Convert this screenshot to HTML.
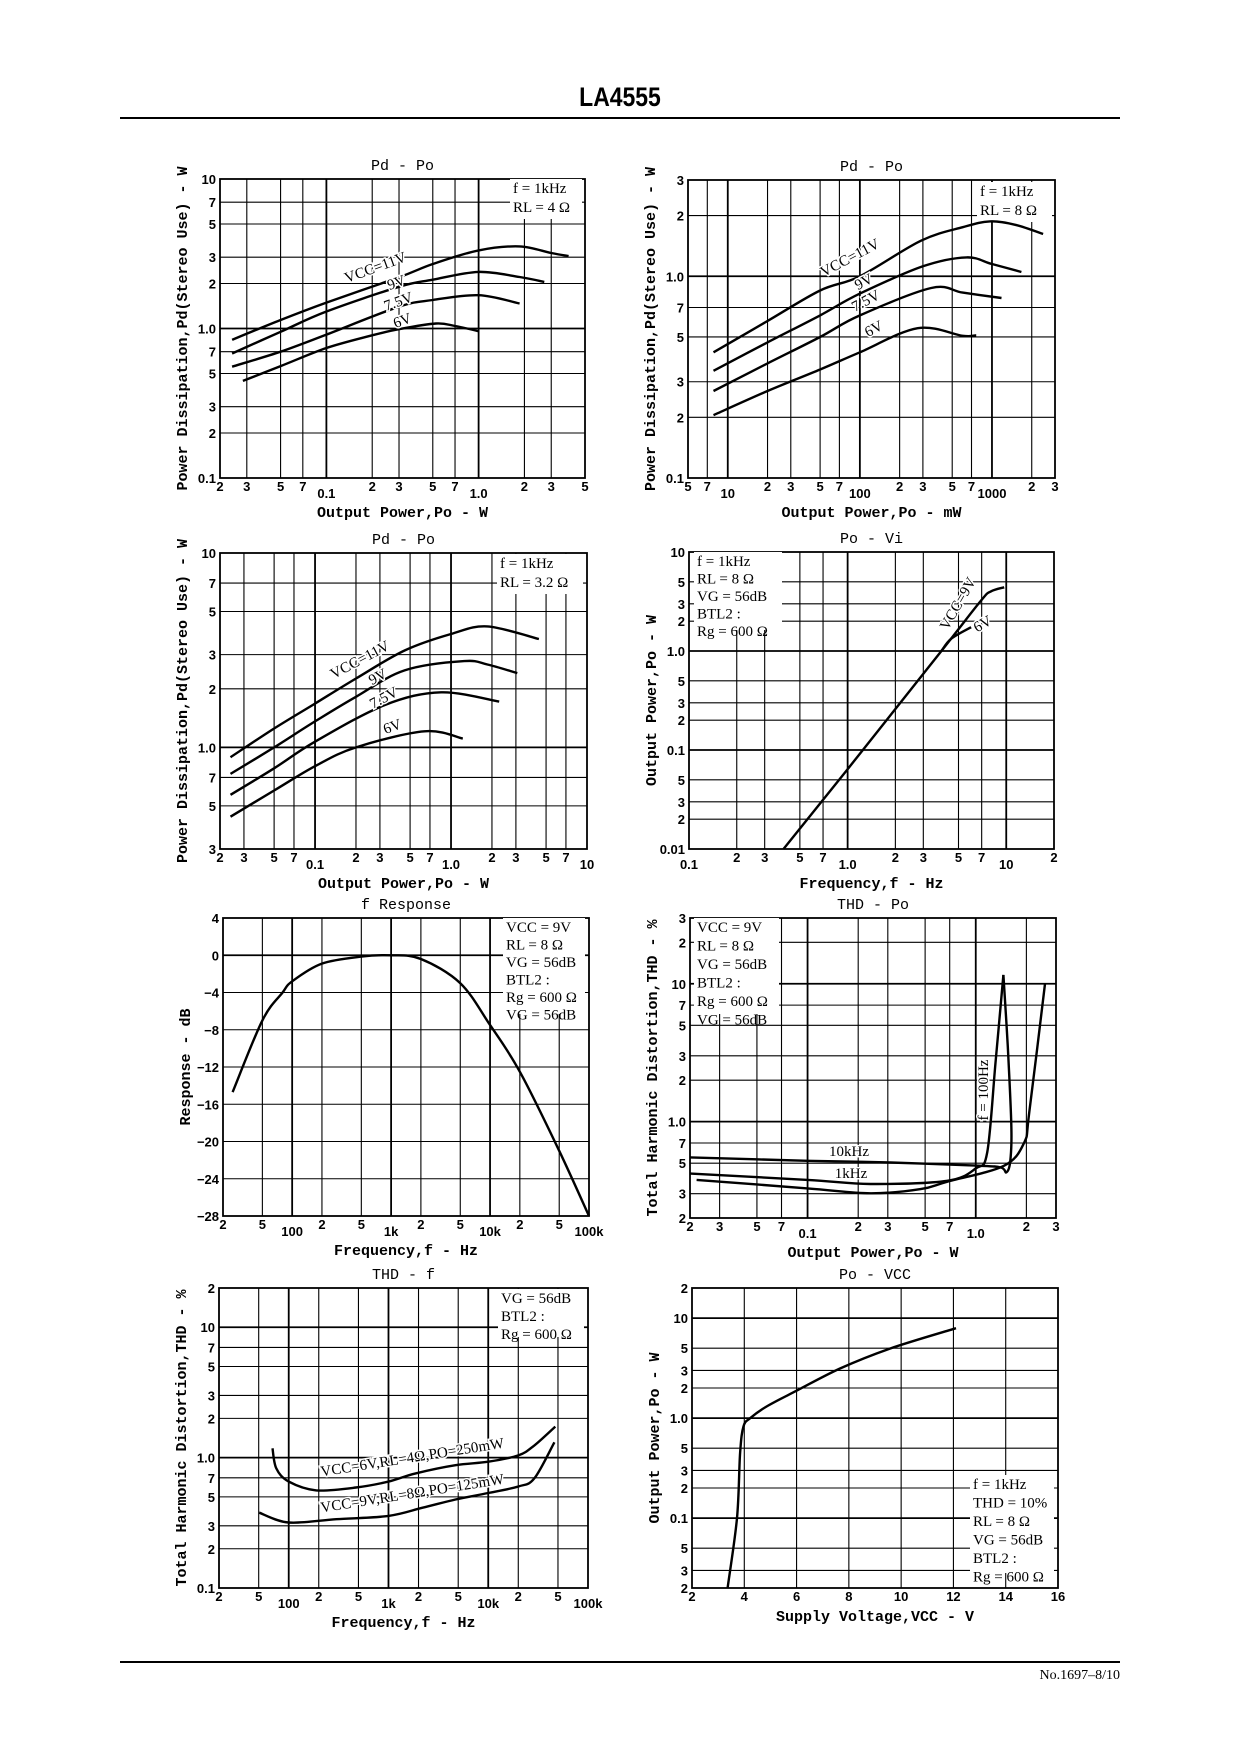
<!DOCTYPE html>
<html><head><meta charset="utf-8"><style>
html,body{margin:0;padding:0;background:#fff}
#page{position:relative;width:1240px;height:1754px;overflow:hidden;background:#fff}
svg{position:absolute;left:0;top:0}
.tk{font-family:"Liberation Sans",sans-serif;font-weight:bold;font-size:13px;fill:#000}
.tt{font-family:"Liberation Mono",monospace;font-size:15px;fill:#000}
.ax{font-family:"Liberation Mono",monospace;font-weight:bold;font-size:15px;fill:#000}
.an{font-family:"Liberation Serif",serif;font-size:15px;fill:#000}
</style></head><body>
<div id="page">
<div style="position:absolute;left:0;width:1240px;top:82px;text-align:center;font-family:'Liberation Sans',sans-serif;font-weight:bold;font-size:27px;transform:scaleX(0.85)">LA4555</div>
<div style="position:absolute;left:120px;top:117px;width:1000px;height:2px;background:#000"></div>
<div style="position:absolute;left:120px;top:1661px;width:1000px;height:2px;background:#000"></div>
<div style="position:absolute;right:120px;top:1668px;font-family:'Liberation Serif',serif;font-size:14px">No.1697–8/10</div>
<svg id="svg" width="1240" height="1754"></svg>
</div>
<script>
// ---- data ----
const c1x11=[0.024,0.05,0.1,0.3,0.5,1.0,1.86,3.0,3.9], c1y11=[0.84,1.14,1.49,2.2,2.7,3.33,3.54,3.2,3.05];
const c1x9=[0.024,0.05,0.1,0.3,0.5,1.0,1.86,2.7], c1y9=[0.68,0.95,1.3,1.9,2.12,2.39,2.21,2.05];
const c1x75=[0.024,0.05,0.1,0.3,0.5,1.0,1.86], c1y75=[0.555,0.7,0.91,1.4,1.55,1.67,1.47];
const c1x6=[0.0283,0.05,0.1,0.2,0.3,0.525,0.7,1.0], c1y6=[0.446,0.56,0.74,0.9,0.99,1.08,1.04,0.96];
const c2x11=[7.8,20,50,100,290,600,960,1500,2440], c2y11=[0.42,0.6,0.85,1.0,1.5,1.75,1.87,1.8,1.62];
const c2x9=[7.8,20,50,100,300,640,1000,1670], c2y9=[0.34,0.47,0.64,0.82,1.12,1.24,1.15,1.05];
const c2x75=[7.8,20,50,100,347,600,1180], c2y75=[0.27,0.37,0.5,0.64,0.875,0.83,0.78];
const c2x6=[7.8,20,50,100,274,600,760], c2y6=[0.205,0.27,0.345,0.42,0.553,0.507,0.51];
const c3x11=[0.0239,0.05,0.1,0.2,0.456,1.0,1.85,4.43], c3y11=[0.89,1.25,1.68,2.26,3.15,3.83,4.19,3.61];
const c3x9=[0.0239,0.05,0.1,0.2,0.456,1.25,1.85,3.07], c3y9=[0.73,1.0,1.36,1.82,2.49,2.78,2.67,2.41];
const c3x75=[0.0239,0.05,0.1,0.325,0.845,2.26], c3y75=[0.57,0.78,1.07,1.65,1.92,1.72];
const c3x6=[0.0239,0.05,0.1,0.2,0.638,1.22], c3y6=[0.44,0.6,0.8,1.0,1.21,1.11];
const c4x9=[0.394,1.0,3.9,6.94,8.0,9.7], c4y9=[0.01,0.064,1.0,3.24,4.0,4.4];
const c4x6=[3.9,4.5,6.0], c4y6=[1.0,1.33,1.74];
const c5f=[25,50,80,100,200,500,1000,2000,5000,10000,20000,50000,100000];
const c5db=[-14.7,-7,-4,-2.8,-0.9,-0.15,0,-0.4,-3,-7.5,-12.5,-21,-28];
const c6x10k=[0.0201,0.1,0.311,1.0,1.41,1.52,1.6,1.63,1.55,1.46], c6y10k=[0.55,0.52,0.505,0.48,0.465,0.428,0.505,0.88,3.5,11.6];
const c6x100=[0.0201,0.1,0.236,0.677,1.0,1.17,1.31,1.46], c6y100=[0.42,0.378,0.353,0.372,0.458,0.597,2.67,11.6];
const c6x1k=[0.0219,0.1,0.236,0.47,0.677,1.47,1.94,2.08,2.58], c6y1k=[0.378,0.328,0.302,0.324,0.367,0.478,0.705,1.16,10.0];
const c7f6=[68.8,75,100,189,473,1000,1870,4700,10000,20000,29000,47000], c7t6=[1.18,0.826,0.655,0.561,0.59,0.655,0.757,0.875,0.93,1.04,1.24,1.73];
const c7f9=[50.6,100,300,1000,2200,4700,10000,20000,29000,46000], c7t9=[0.378,0.318,0.337,0.357,0.413,0.477,0.535,0.601,0.694,1.31];
const c8v=[3.36,3.72,3.84,3.97,4.23,4.86,6.0,7.66,9.57,12.1], c8p=[0.02,0.1,0.449,0.827,1.0,1.31,1.88,3.13,4.95,7.93];
// ticks
const xtLogW=[[0.02,'2'],[0.03,'3'],[0.05,'5'],[0.07,'7'],[0.1,'0.1',1],[0.2,'2'],[0.3,'3'],[0.5,'5'],[0.7,'7'],[1,'1.0',1],[2,'2'],[3,'3'],[5,'5']];
const xtMw=[[5,'5'],[7,'7'],[10,'10',1],[20,'2'],[30,'3'],[50,'5'],[70,'7'],[100,'100',1],[200,'2'],[300,'3'],[500,'5'],[700,'7'],[1000,'1000',1],[2000,'2'],[3000,'3']];
const xt3=[[0.02,'2'],[0.03,'3'],[0.05,'5'],[0.07,'7'],[0.1,'0.1',1],[0.2,'2'],[0.3,'3'],[0.5,'5'],[0.7,'7'],[1,'1.0',1],[2,'2'],[3,'3'],[5,'5'],[7,'7'],[10,'10',1]];
const xt4=[[0.1,'0.1',1],[0.2,'2'],[0.3,'3'],[0.5,'5'],[0.7,'7'],[1,'1.0',1],[2,'2'],[3,'3'],[5,'5'],[7,'7'],[10,'10',1],[20,'2']];
const xtF=[[20,'2'],[50,'5'],[100,'100',1],[200,'2'],[500,'5'],[1000,'1k',1],[2000,'2'],[5000,'5'],[10000,'10k',1],[20000,'2'],[50000,'5'],[100000,'100k',1]];
const xt6=[[0.02,'2'],[0.03,'3'],[0.05,'5'],[0.07,'7'],[0.1,'0.1',1],[0.2,'2'],[0.3,'3'],[0.5,'5'],[0.7,'7'],[1,'1.0',1],[2,'2'],[3,'3']];
const xt8=[[2,'2'],[4,'4'],[6,'6'],[8,'8'],[10,'10'],[12,'12'],[14,'14'],[16,'16']];
const yt1=[[0.1,'0.1'],[0.2,'2'],[0.3,'3'],[0.5,'5'],[0.7,'7'],[1,'1.0'],[2,'2'],[3,'3'],[5,'5'],[7,'7'],[10,'10']];
const yt2=[[0.1,'0.1'],[0.2,'2'],[0.3,'3'],[0.5,'5'],[0.7,'7'],[1,'1.0'],[2,'2'],[3,'3']];
const yt3=[[0.3,'3'],[0.5,'5'],[0.7,'7'],[1,'1.0'],[2,'2'],[3,'3'],[5,'5'],[7,'7'],[10,'10']];
const yt4=[[0.01,'0.01'],[0.02,'2'],[0.03,'3'],[0.05,'5'],[0.1,'0.1'],[0.2,'2'],[0.3,'3'],[0.5,'5'],[1,'1.0'],[2,'2'],[3,'3'],[5,'5'],[10,'10']];
const yt5=[[4,'4'],[0,'0'],[-4,'−4'],[-8,'−8'],[-12,'−12'],[-16,'−16'],[-20,'−20'],[-24,'−24'],[-28,'−28']];
const yt6=[[0.2,'2'],[0.3,'3'],[0.5,'5'],[0.7,'7'],[1,'1.0'],[2,'2'],[3,'3'],[5,'5'],[7,'7'],[10,'10'],[20,'2'],[30,'3']];
const yt7=[[0.1,'0.1'],[0.2,'2'],[0.3,'3'],[0.5,'5'],[0.7,'7'],[1,'1.0'],[2,'2'],[3,'3'],[5,'5'],[7,'7'],[10,'10'],[20,'2']];
const yt8=[[0.02,'2'],[0.03,'3'],[0.05,'5'],[0.1,'0.1'],[0.2,'2'],[0.3,'3'],[0.5,'5'],[1,'1.0'],[2,'2'],[3,'3'],[5,'5'],[10,'10'],[20,'2']];

const NS='http://www.w3.org/2000/svg', svg=document.getElementById('svg');
function mk(tag,at,parent){const e=document.createElementNS(NS,tag);for(const k in at)e.setAttribute(k,at[k]);(parent||svg).appendChild(e);return e;}
function scale(type,d0,d1,p0,p1){return type==='log'?v=>p0+(Math.log10(v)-Math.log10(d0))/(Math.log10(d1)-Math.log10(d0))*(p1-p0):v=>p0+(v-d0)/(d1-d0)*(p1-p0);}
function smooth(pts){let d='M'+pts[0][0].toFixed(1)+','+pts[0][1].toFixed(1);for(let i=0;i<pts.length-1;i++){const p0=pts[Math.max(0,i-1)],p1=pts[i],p2=pts[i+1],p3=pts[Math.min(pts.length-1,i+2)];const c1=[p1[0]+(p2[0]-p0[0])/6,p1[1]+(p2[1]-p0[1])/6],c2=[p2[0]-(p3[0]-p1[0])/6,p2[1]-(p3[1]-p1[1])/6];d+=' C'+c1.map(v=>v.toFixed(1))+' '+c2.map(v=>v.toFixed(1))+' '+p2.map(v=>v.toFixed(1));}return d;}
function txt(g,x,y,s,cls,anchor,rot,name){const t=mk('text',{x:x,y:y,class:cls,'text-anchor':anchor||'middle'},g);if(rot)t.setAttribute('transform','rotate('+rot+' '+x+' '+y+')');t.textContent=s;

return t;}
function chart(c){
 const g=mk('g',{});
 
 
 const [L,T,R,B]=c.box;const X=scale(c.xt,c.xr[0],c.xr[1],L,R),Y=scale(c.yt,c.yr[0],c.yr[1],B,T);
 c.xticks.forEach(t=>{const x=X(t[0]);if(x>L+1&&x<R-1){const l=mk('line',{x1:x,y1:T,x2:x,y2:B,stroke:'#000','stroke-width':t[2]?1.8:1.1},g);}
  txt(g,x,B+(t[2]?20:13),t[1],'tk','middle',0,'x-tick-label');});
 c.yticks.forEach(t=>{const y=Y(t[0]);if(y>T+1&&y<B-1){const l=mk('line',{x1:L,y1:y,x2:R,y2:y,stroke:'#000','stroke-width':(t[1]==='1.0'||t[1]==='10'||t[1]==='0.1'||t[1]==='0')?1.8:1.1},g);}
  txt(g,L-4,y+5,t[1],'tk','end',0,'y-tick-label');});
 const fr=mk('rect',{x:L,y:T,width:R-L,height:B-T,fill:'none',stroke:'#000','stroke-width':1.8},g);
 
 (c.notes||[]).forEach(n=>{const bg=mk('rect',{x:n.x-3,y:n.y-14,width:n.w,height:n.h,fill:'#fff'},g);n.lines.forEach((s,i)=>txt(g,n.x,n.y+i*n.dy,s,'an','start',0,'condition-note'));});
 c.series.forEach(s=>{const p=mk('path',{d:smooth(s.x.map((v,i)=>[X(v),Y(s.y[i])])),fill:'none',stroke:'#000','stroke-width':2.4,'stroke-linejoin':'round'},g);
  
  });
 (c.labels||[]).forEach(l=>{const t=txt(g,l.x,l.y,l.s,'an','middle',l.r,'curve-label');t.setAttribute('stroke','#fff');t.setAttribute('stroke-width','3');t.setAttribute('paint-order','stroke');});
 txt(g,(L+R)/2,T-9,c.title,'tt','middle',0,'chart-title');
 txt(g,(L+R)/2,B+(c.xlOff||39),c.xlabel,'ax','middle',0,'x-axis-title');
 txt(g,L-33,(T+B)/2,c.ylabel,'ax','middle',-90,'y-axis-title');
}
const ylPd='Power Dissipation,Pd(Stereo Use) - W';
chart({name:'chart-pd-po-4ohm',box:[220,179,585,478],xt:'log',xr:[0.02,5],yt:'log',yr:[0.1,10],xticks:xtLogW,yticks:yt1,title:'Pd - Po',xlabel:'Output Power,Po - W',ylabel:ylPd,
 series:[{name:'curve-11v',x:c1x11,y:c1y11},{name:'curve-9v',x:c1x9,y:c1y9},{name:'curve-7.5v',x:c1x75,y:c1y75},{name:'curve-6v',x:c1x6,y:c1y6}],
 notes:[{x:513,y:193,w:72,h:40,dy:19,lines:['f = 1kHz','RL = 4 Ω']}],
 labels:[{x:377,y:272,s:'VCC=11V',r:-20},{x:398,y:287,s:'9V',r:-20},{x:400,y:306,s:'7.5V',r:-20},{x:404,y:325,s:'6V',r:-20}]});
chart({name:'chart-pd-po-8ohm',box:[688,180,1055,478],xt:'log',xr:[5,3000],yt:'log',yr:[0.1,3],xticks:xtMw,yticks:yt2,title:'Pd - Po',xlabel:'Output Power,Po - mW',ylabel:ylPd,
 series:[{name:'curve-11v',x:c2x11,y:c2y11},{name:'curve-9v',x:c2x9,y:c2y9},{name:'curve-7.5v',x:c2x75,y:c2y75},{name:'curve-6v',x:c2x6,y:c2y6}],
 notes:[{x:980,y:196,w:75,h:40,dy:19,lines:['f = 1kHz','RL = 8 Ω']}],
 labels:[{x:852,y:262,s:'VCC=11V',r:-28},{x:866,y:286,s:'9V',r:-28},{x:868,y:305,s:'7.5V',r:-28},{x:876,y:333,s:'6V',r:-28}]});
chart({name:'chart-pd-po-3.2ohm',box:[220,553,587,849],xt:'log',xr:[0.02,10],yt:'log',yr:[0.3,10],xticks:xt3,yticks:yt3,title:'Pd - Po',xlabel:'Output Power,Po - W',ylabel:ylPd,
 series:[{name:'curve-11v',x:c3x11,y:c3y11},{name:'curve-9v',x:c3x9,y:c3y9},{name:'curve-7.5v',x:c3x75,y:c3y75},{name:'curve-6v',x:c3x6,y:c3y6}],
 notes:[{x:500,y:568,w:86,h:40,dy:19,lines:['f = 1kHz','RL = 3.2 Ω']}],
 labels:[{x:362,y:664,s:'VCC=11V',r:-28},{x:380,y:681,s:'9V',r:-28},{x:386,y:702,s:'7.5V',r:-28},{x:394,y:731,s:'6V',r:-20}]});
chart({name:'chart-po-vi',box:[689,552,1054,849],xt:'log',xr:[0.1,20],yt:'log',yr:[0.01,10],xticks:xt4,yticks:yt4,title:'Po - Vi',xlabel:'Frequency,f - Hz',ylabel:'Output Power,Po - W',
 series:[{name:'curve-9v',x:c4x9,y:c4y9},{name:'curve-6v',x:c4x6,y:c4y6}],
 notes:[{x:697,y:566,w:88,h:78,dy:17.5,lines:['f = 1kHz','RL = 8 Ω','VG = 56dB','BTL2 :','Rg = 600 Ω']}],
 labels:[{x:962,y:606,s:'VCC=9V',r:-60},{x:985,y:628,s:'6V',r:-30}]});
chart({name:'chart-f-response',box:[223,918,589,1216],xt:'log',xr:[20,100000],yt:'lin',yr:[-28,4],xticks:xtF,yticks:yt5,title:'f Response',xlabel:'Frequency,f - Hz',ylabel:'Response - dB',
 series:[{name:'response-curve',x:c5f,y:c5db}],
 notes:[{x:506,y:932,w:82,h:96,dy:17.5,lines:['VCC = 9V','RL = 8 Ω','VG = 56dB','BTL2 :','Rg = 600 Ω','VG = 56dB']}]});
chart({name:'chart-thd-po',box:[690,918,1056,1218],xt:'log',xr:[0.02,3],yt:'log',yr:[0.2,30],xticks:xt6,yticks:yt6,title:'THD - Po',xlabel:'Output Power,Po - W',ylabel:'Total Harmonic Distortion,THD - %',
 series:[{name:'curve-10khz',x:c6x10k,y:c6y10k},{name:'curve-100hz',x:c6x100,y:c6y100},{name:'curve-1khz',x:c6x1k,y:c6y1k}],
 notes:[{x:697,y:932,w:85,h:96,dy:18.5,lines:['VCC = 9V','RL = 8 Ω','VG = 56dB','BTL2 :','Rg = 600 Ω','VG = 56dB']}],
 labels:[{x:849,y:1156,s:'10kHz',r:0},{x:851,y:1178,s:'1kHz',r:0},{x:988,y:1090,s:'f = 100Hz',r:-90}]});
chart({name:'chart-thd-f',box:[219,1288,588,1588],xt:'log',xr:[20,100000],yt:'log',yr:[0.1,20],xticks:xtF,yticks:yt7,title:'THD - f',xlabel:'Frequency,f - Hz',ylabel:'Total Harmonic Distortion,THD - %',
 series:[{name:'curve-6v-4ohm',x:c7f6,y:c7t6},{name:'curve-9v-8ohm',x:c7f9,y:c7t9}],
 notes:[{x:501,y:1303,w:86,h:48,dy:18,lines:['VG = 56dB','BTL2 :','Rg = 600 Ω']}],
 labels:[{x:413,y:1462,s:'VCC=6V,RL=4Ω,PO=250mW',r:-9},{x:413,y:1498,s:'VCC=9V,RL=8Ω,PO=125mW',r:-9}]});
chart({name:'chart-po-vcc',box:[692,1288,1058,1588],xt:'lin',xr:[2,16],yt:'log',yr:[0.02,20],xticks:xt8,yticks:yt8,title:'Po - VCC',xlabel:'Supply Voltage,VCC - V',ylabel:'Output Power,Po - W',xlOff:33,
 series:[{name:'po-curve',x:c8v,y:c8p}],
 notes:[{x:973,y:1489,w:84,h:98,dy:18.5,lines:['f = 1kHz','THD = 10%','RL = 8 Ω','VG = 56dB','BTL2 :','Rg = 600 Ω']}]});
</script>
</body></html>
